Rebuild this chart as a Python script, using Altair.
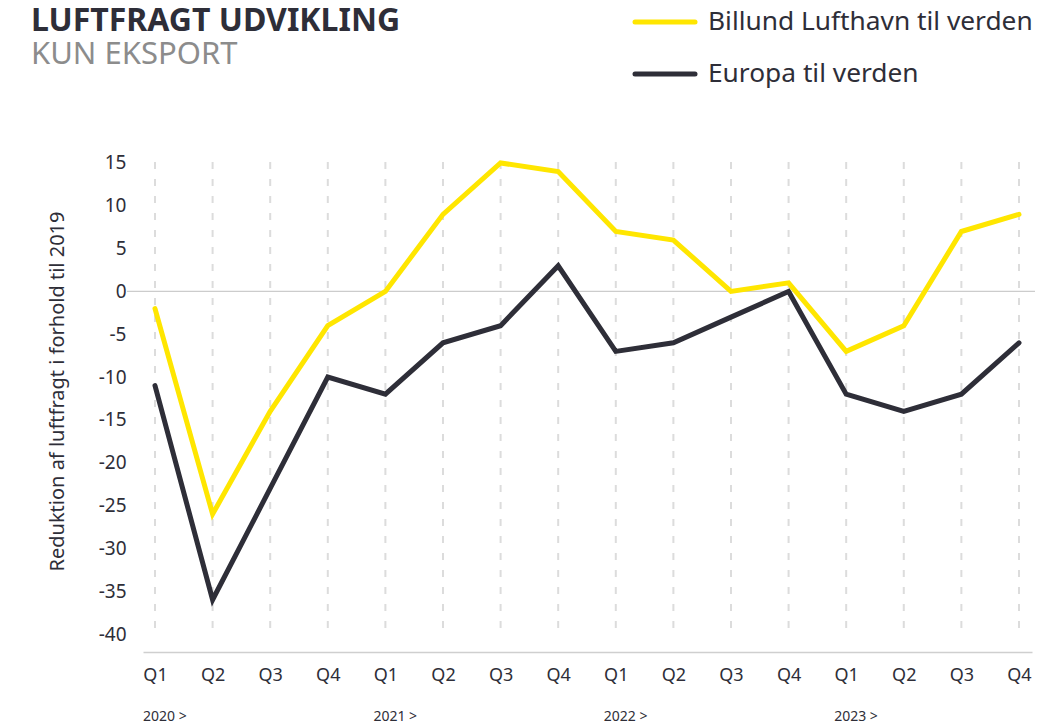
import json
import altair as alt
import pandas as pd

# ---------------- data ----------------
quarters = ["Q1", "Q2", "Q3", "Q4"] * 4
year_labels = ["2020 >", "2021 >", "2022 >", "2023 >"]
year_start_idx = [0, 4, 8, 12]
billund = [-2, -26, -14, -4, 0, 9, 15, 14, 7, 6, 0, 1, -7, -4, 7, 9]
europa = [-11, -36, -23, -10, -12, -6, -4, 3, -7, -6, -3, 0, -12, -14, -12, -6]
series_names = ["Billund Lufthavn til verden", "Europa til verden"]
series_colors = ["#FFE600", "#2E2E38"]
y_ticks = list(range(-40, 20, 5))
title_text = "LUFTFRAGT UDVIKLING"
subtitle_text = "KUN EKSPORT"
y_title = "Reduktion af luftfragt i forhold til 2019"

FONT = "Noto Sans"
DARK = "#2E2E38"
W, H = 889, 497

idx = list(range(len(quarters)))
df_b = pd.DataFrame({"idx": idx, "value": billund, "series": series_names[0]})
df_e = pd.DataFrame({"idx": idx, "value": europa, "series": series_names[1]})
df_grid = pd.DataFrame({"idx": idx})
df_years = pd.DataFrame({"idx": year_start_idx, "label": year_labels})
one = pd.DataFrame({"a": [0]})

x_scale = alt.Scale(domain=[-0.2083, 15.226], nice=False, zero=False)
y_scale = alt.Scale(domain=[-42.1, 15.93], nice=False, zero=False)
color_scale = alt.Scale(domain=series_names, range=series_colors)

label_expr = json.dumps(quarters) + "[datum.value]"

x_axis = alt.Axis(
    values=idx, labelExpr=label_expr, ticks=False, grid=False,
    domainColor="#cfcfcf", domainWidth=1.5, labelFontSize=18, labelFont=FONT,
    labelColor=DARK, labelPadding=14, title=None, labelAngle=0,
)
y_axis = alt.Axis(
    values=y_ticks, labelExpr="'' + datum.value", ticks=False, domain=False, grid=False,
    labelFontSize=19, labelFont=FONT, labelColor=DARK, labelPadding=17,
    title=y_title, titleFont=FONT, titleFontSize=20, titleFontWeight="normal",
    titleColor=DARK, titleX=-86, titleY=236, titleAngle=-90,
    titleBaseline="middle", titleAlign="center",
)

X = alt.X("idx:Q", scale=x_scale, axis=x_axis)

grid = alt.Chart(df_grid).mark_rule(
    color="#dcdcdc", strokeWidth=2, strokeDash=[7, 10]
).encode(x=X, y=alt.value(7), y2=alt.value(479))

zero = alt.Chart(one).mark_rule(color="#cccccc", strokeWidth=1.2).encode(
    y=alt.YDatum(0, scale=y_scale, axis=y_axis),
    x=alt.value(-16), x2=alt.value(892),
)

def series_line(d):
    return alt.Chart(d).mark_line(strokeWidth=5, strokeCap="round").encode(
        x=X,
        y=alt.Y("value:Q", scale=y_scale, axis=y_axis),
        color=alt.Color("series:N", scale=color_scale, legend=None),
    )

line_e = series_line(df_e)
line_b = series_line(df_b)

years = alt.Chart(df_years).mark_text(
    align="left", baseline="alphabetic", fontSize=14, font=FONT, color=DARK, dx=-12
).encode(x=X, y=alt.value(566), text="label:N")

title = alt.Chart(one).mark_text(
    align="left", baseline="alphabetic", fontSize=32, fontWeight="bold", font=FONT, color=DARK
).encode(x=alt.value(-112), y=alt.value(-124), text=alt.value(title_text))

subtitle = alt.Chart(one).mark_text(
    align="left", baseline="alphabetic", fontSize=31, font=FONT, color="#8c8c8c"
).encode(x=alt.value(-112), y=alt.value(-91), text=alt.value(subtitle_text))

legend_layers = []
for name, col, ly in zip(series_names, series_colors, [-133, -81]):
    legend_layers.append(
        alt.Chart(one).mark_rule(color=col, strokeWidth=5, strokeCap="round").encode(
            x=alt.value(492), x2=alt.value(552), y=alt.value(ly)
        )
    )
    legend_layers.append(
        alt.Chart(one).mark_text(
            align="left", baseline="middle", fontSize=26.3, font=FONT, color=DARK
        ).encode(x=alt.value(565), y=alt.value(ly), text=alt.value(name))
    )

chart = alt.layer(
    grid, zero, line_e, line_b, years, title, subtitle, *legend_layers
).properties(
    width=W, height=H,
    autosize=alt.AutoSizeParams(type="none"),
    padding={"left": 135, "top": 147, "right": 3, "bottom": 74},
).configure_view(stroke=None)

chart.save("out.html", embed_options={"renderer": "svg", "actions": False})
